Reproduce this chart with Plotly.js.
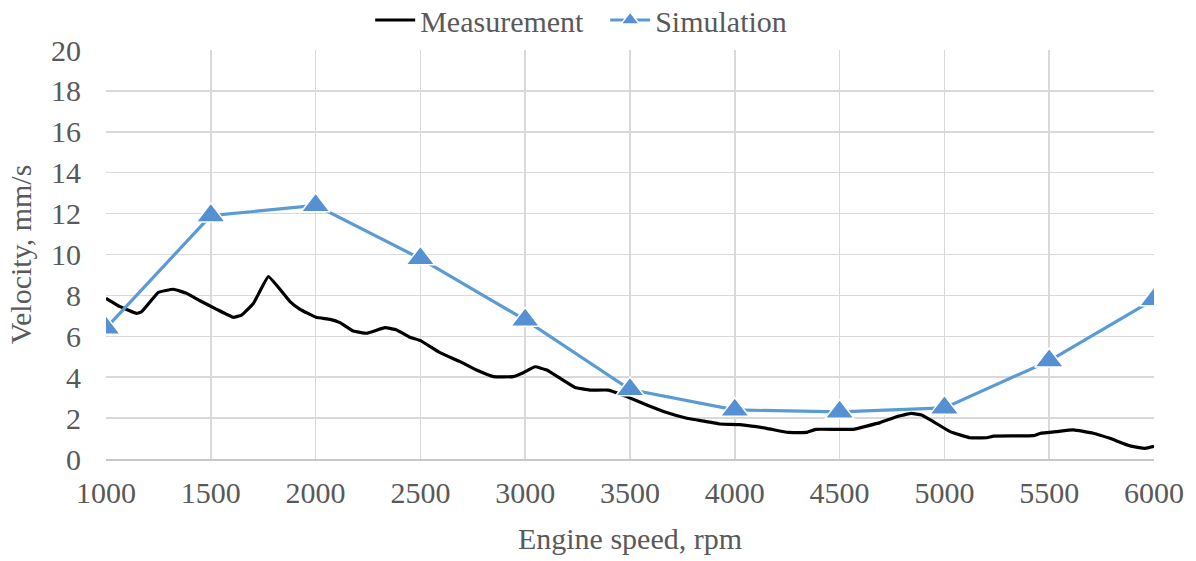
<!DOCTYPE html>
<html>
<head>
<meta charset="utf-8">
<script src="https://cdn.plot.ly/plotly-3.0.1.min.js"></script>
<style>html,body{margin:0;padding:0;background:#fff;}#chart{width:1196px;height:561px;}</style>
</head>
<body>
<div id="chart"></div>
<script>
const measRpm = [1000,1067,1146,1170,1250,1321,1385,1448,1528,1607,1647,1703,1775,1878,1926,2002,2069,2116,2180,2244,2331,2387,2450,2498,2593,2689,2768,2848,2943,2991,3047,3103,3166,3238,3309,3397,3484,3580,3675,3771,3866,3929,4024,4151,4255,4342,4386,4565,4629,4693,4772,4843,4891,4947,5027,5122,5202,5235,5424,5456,5536,5615,5710,5790,5886,5958,6000];
const measVel = [7.86,7.45,7.12,7.2,8.15,8.3,8.1,7.74,7.32,6.93,7.04,7.6,8.92,7.7,7.32,6.93,6.83,6.67,6.26,6.15,6.42,6.31,5.95,5.8,5.2,4.76,4.35,4.03,4.03,4.22,4.51,4.35,3.95,3.5,3.37,3.37,3.05,2.64,2.27,1.99,1.83,1.71,1.68,1.5,1.3,1.3,1.45,1.45,1.61,1.78,2.07,2.23,2.15,1.83,1.34,1.04,1.04,1.12,1.14,1.25,1.34,1.42,1.26,1.01,0.64,0.52,0.62];
const simRpm = [1000,1500,2000,2500,3000,3500,4000,4500,5000,5500,6000];
const simVel = [6.4,11.9,12.4,9.8,6.8,3.4,2.4,2.3,2.5,4.8,7.8];
const seriesNames = ["Measurement","Simulation"];
const xTitle = "Engine speed, rpm";
const yTitle = "Velocity, mm/s";

const fontFam = "Liberation Serif, Times New Roman, serif";
const txtColor = "#595959";
const fs = 30;

const traces = [
  {x: measRpm, y: measVel, name: seriesNames[0], mode: "lines", type: "scatter",
   line: {color: "#000000", width: 3.2, shape: "spline", smoothing: 0.3}},
  {x: simRpm, y: simVel, name: seriesNames[1], mode: "lines+markers", type: "scatter",
   line: {color: "#5B9BD5", width: 3.2},
   marker: {symbol: "triangle-up", size: 25, color: "#5590D3", line: {color: "#ffffff", width: 1.5}}}
];

const layout = {
  width: 1196, height: 561,
  margin: {l: 106, r: 42, t: 50, b: 102},
  paper_bgcolor: "#ffffff", plot_bgcolor: "#ffffff",
  font: {family: fontFam, size: fs, color: txtColor},
  showlegend: true,
  legend: {orientation: "h", x: 0.506, xanchor: "center", xref: "container", yref: "container", y: 1 - 20/561, yanchor: "middle",
           font: {family: fontFam, size: fs, color: txtColor}, itemwidth: 40, tracegroupgap: 0, entrywidth: 180},
  xaxis: {range: [1000, 6000], dtick: 500, tick0: 1000, showgrid: true, gridcolor: "#d9d9d9", gridwidth: 1.5,
          showline: true, linecolor: "#c8c8c8", linewidth: 1.5, zeroline: false, ticks: "",
          ticklabelstandoff: 6,
          tickfont: {family: fontFam, size: fs, color: txtColor},
          title: {text: xTitle, font: {family: fontFam, size: fs, color: txtColor}, standoff: 20}},
  yaxis: {range: [0, 20], dtick: 2, showgrid: true, gridcolor: "#d9d9d9", gridwidth: 1.5,
          showline: false, zeroline: false, ticks: "",
          ticklabelstandoff: 24,
          tickfont: {family: fontFam, size: fs, color: txtColor},
          title: {text: yTitle, font: {family: fontFam, size: fs, color: txtColor}, standoff: 10}}
};

Plotly.newPlot("chart", traces, layout, {displayModeBar: false, staticPlot: true});
</script>
</body>
</html>
